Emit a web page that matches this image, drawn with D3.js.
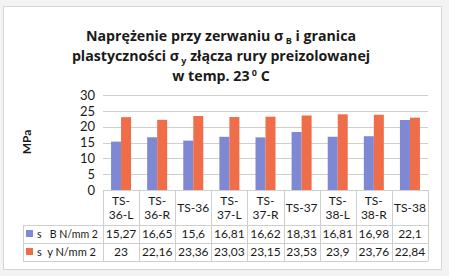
<!DOCTYPE html>
<html>
<head>
<meta charset="utf-8">
<script src="https://cdn.jsdelivr.net/npm/d3@7"></script>
<style>
  body { margin: 0; background: #f3f3f3; }
  svg text { font-family: Lato, "Open Sans", sans-serif; fill: #1a1a1a; }
  svg text.title { font-family: "Open Sans", sans-serif; }
</style>
</head>
<body>
<div id="chart"></div>
<script>
// categories and values
const categories = ['TS-36-L', 'TS-36-R', 'TS-36', 'TS-37-L', 'TS-37-R', 'TS-37', 'TS-38-L', 'TS-38-R', 'TS-38'];
const categoryLines = [['TS-', '36-L'], ['TS-', '36-R'], ['TS-36'], ['TS-', '37-L'], ['TS-', '37-R'], ['TS-37'], ['TS-', '38-L'], ['TS-', '38-R'], ['TS-38']];
const sigmaB = [15.27, 16.65, 15.6, 16.81, 16.62, 18.31, 16.81, 16.98, 22.1];
const sigmaY = [23, 22.16, 23.36, 23.03, 23.15, 23.53, 23.9, 23.76, 22.84];
const seriesNames = ['s   B N/mm 2', 's  y N/mm 2'];
const yTicks = [0, 5, 10, 15, 20, 25, 30];
const titleLines = ['Naprężenie przy zerwaniu σ', 'plastyczności σ', 'w temp. 23'];

const width = 449, height = 276;
const colors = ['#7f88d2', '#ef6d48'];
const gridColor = '#cfcfcf';
const tableFont = 12;

const svg = d3.select('#chart').append('svg')
    .attr('width', width)
    .attr('height', height);

// outer frame
svg.append('rect')
    .attr('x', 3.5).attr('y', 6.5)
    .attr('width', 438).attr('height', 263)
    .attr('fill', '#ffffff')
    .attr('stroke', '#d6d6d6');

// title (with sub/superscripts)
const title = svg.append('g').attr('font-weight', 'bold').attr('font-size', 14.2);
let t1 = title.append('text').attr('class', 'title').attr('x', 221).attr('y', 41).attr('text-anchor', 'middle');
t1.append('tspan').text(titleLines[0]);
t1.append('tspan').attr('dy', 3).attr('font-size', 9).text(' B');
t1.append('tspan').attr('dy', -3).text(' i granica');
let t2 = title.append('text').attr('class', 'title').attr('x', 221).attr('y', 61).attr('text-anchor', 'middle');
t2.append('tspan').text(titleLines[1]);
t2.append('tspan').attr('dy', 3).attr('font-size', 9).text(' y');
t2.append('tspan').attr('dy', -3).text(' złącza rury preizolowanej');
let t3 = title.append('text').attr('class', 'title').attr('x', 221).attr('y', 81).attr('text-anchor', 'middle');
t3.append('tspan').text(titleLines[2]);
t3.append('tspan').attr('dy', -5).attr('font-size', 9).text(' 0');
t3.append('tspan').attr('dy', 5).text(' C');

// scales
const plotLeft = 103, plotRight = 428, plotTop = 95, plotBottom = 190;
const x = d3.scaleBand().domain(categories).range([plotLeft, plotRight]);
const y = d3.scaleLinear().domain([0, 30]).range([plotBottom, plotTop]);
const barW = 10;

// gridlines
svg.append('g').selectAll('line')
    .data(yTicks.filter(d => d > 0))
    .join('line')
    .attr('x1', plotLeft).attr('x2', plotRight)
    .attr('y1', d => Math.round(y(d)) + 0.5).attr('y2', d => Math.round(y(d)) + 0.5)
    .attr('stroke', gridColor);

// y axis labels
const yAxis = svg.append('g')
    .attr('transform', `translate(${plotLeft - 8},0)`)
    .call(d3.axisLeft(y).tickValues(yTicks).tickSize(0).tickPadding(0));
yAxis.select('.domain').remove();
yAxis.selectAll('text')
    .attr('font-size', 13)
    .attr('fill', '#333')
    .style('font-family', 'Lato, sans-serif');

svg.append('text')
    .attr('transform', 'translate(31,142) rotate(-90)')
    .attr('text-anchor', 'middle')
    .attr('font-weight', 'bold')
    .attr('font-size', 12)
    .text('MPa');

// bars
const series = [sigmaB, sigmaY];
series.forEach((vals, s) => {
    svg.append('g').selectAll('rect')
        .data(vals)
        .join('rect')
        .attr('x', (d, i) => x(categories[i]) + x.bandwidth() / 2 - barW + s * barW)
        .attr('y', d => y(d))
        .attr('width', barW)
        .attr('height', d => plotBottom - y(d))
        .attr('fill', colors[s]);
});

// data table
const tableLeft = 23;
const rowTops = [190, 225, 243, 261];
const tbl = svg.append('g').attr('stroke', gridColor).attr('fill', 'none');
tbl.append('line').attr('x1', plotLeft).attr('x2', plotRight).attr('y1', rowTops[0] + 0.5).attr('y2', rowTops[0] + 0.5);
[1, 2, 3].forEach(r => {
    tbl.append('line').attr('x1', tableLeft).attr('x2', plotRight)
        .attr('y1', rowTops[r] + 0.5).attr('y2', rowTops[r] + 0.5);
});
tbl.append('line').attr('x1', tableLeft + 0.5).attr('x2', tableLeft + 0.5).attr('y1', rowTops[1]).attr('y2', rowTops[3]);
categories.concat([null]).forEach(c => {
    const xx = Math.round(c ? x(c) : plotRight) + 0.5;
    tbl.append('line').attr('x1', xx).attr('x2', xx).attr('y1', rowTops[0]).attr('y2', rowTops[3]);
});

// category labels
const hdr = svg.append('g').attr('font-size', tableFont).attr('text-anchor', 'middle');
categoryLines.forEach((lines, i) => {
    const cx = x(categories[i]) + x.bandwidth() / 2;
    const txt = hdr.append('text').attr('x', cx);
    if (lines.length === 2) {
        txt.attr('y', 205);
        txt.append('tspan').attr('x', cx).text(lines[0]);
        txt.append('tspan').attr('x', cx).attr('dy', 14).text(lines[1]);
    } else {
        txt.attr('y', 212).text(lines[0]);
    }
});

// value rows
const fmt = v => String(v).replace('.', ',');
series.forEach((vals, s) => {
    const yy = rowTops[s + 1] + 13;
    const row = svg.append('g').attr('font-size', tableFont);
    row.append('rect')
        .attr('x', 26).attr('y', yy - 8)
        .attr('width', 7).attr('height', 7)
        .attr('fill', colors[s]);
    row.append('text').attr('x', 37).attr('y', yy)
        .attr('xml:space', 'preserve')
        .attr('textLength', s === 0 ? 61 : 59)
        .attr('lengthAdjust', 'spacingAndGlyphs')
        .text(seriesNames[s]);
    row.selectAll('text.v')
        .data(vals)
        .join('text')
        .attr('class', 'v')
        .attr('x', (d, i) => x(categories[i]) + x.bandwidth() / 2)
        .attr('y', yy)
        .attr('text-anchor', 'middle')
        .text(d => fmt(d));
});
</script>
</body>
</html>
